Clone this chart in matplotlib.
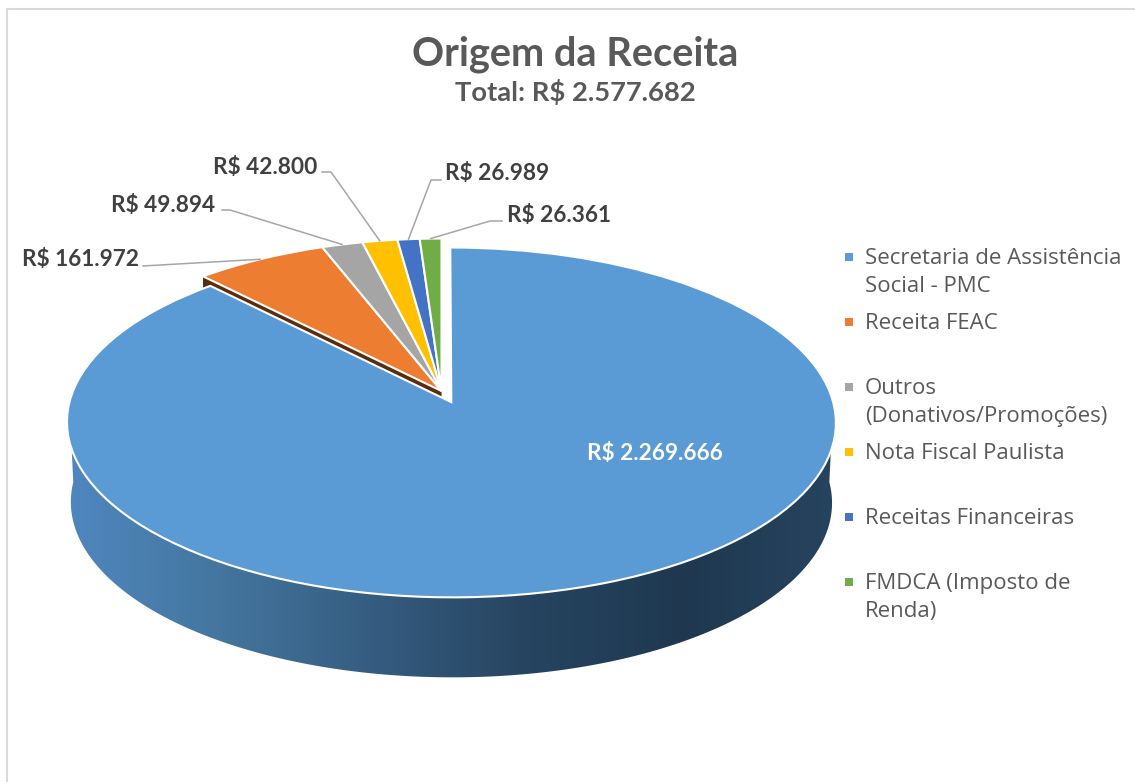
import numpy as np
import matplotlib
matplotlib.use("Agg")
import matplotlib.pyplot as plt
import matplotlib.transforms as mtransforms
from matplotlib.colors import LinearSegmentedColormap
from matplotlib.patches import Polygon

categorias = ["Secretaria de Assistência\nSocial - PMC", "Receita FEAC",
              "Outros\n(Donativos/Promoções)", "Nota Fiscal Paulista",
              "Receitas Financeiras", "FMDCA (Imposto de\nRenda)"]
valores = [2269666, 161972, 49894, 42800, 26989, 26361]
rotulos = ["R$ 2.269.666", "R$ 161.972", "R$ 49.894", "R$ 42.800", "R$ 26.989", "R$ 26.361"]
cores = ["#5B9BD5", "#ED7D31", "#A5A5A5", "#FFC000", "#4472C4", "#70AD47"]

titulo = "Origem da Receita"
subtitulo = "Total: R$ 2.577.682"

TXT = "#595959"
FONTE = "Lato"

# centro da pizza e perspectiva, em pixels
cx, cy = 441.5, 391
rx, ry = 379, 170
k = 0.115
prof = 80
separa = 0.07


def projeta(x, y):
    w = 1 + k * np.asarray(y)
    return cx + rx * np.asarray(x) / w, cy - ry * np.asarray(y) / w


class Perspectiva(mtransforms.Transform):
    input_dims = 2
    output_dims = 2

    def transform_non_affine(self, values):
        px, py = projeta(values[:, 0], values[:, 1])
        return np.column_stack([px, py])


fig = plt.figure(figsize=(11.35, 7.82), dpi=100)
ax = fig.add_axes([0, 0, 1, 1])

wedges, _ = ax.pie(valores, colors=cores, startangle=90, counterclock=False,
                   explode=[separa, 0, 0, 0, 0, 0],
                   wedgeprops=dict(edgecolor="white", linewidth=1.5))
for w in wedges:
    w.set_transform(Perspectiva() + ax.transData)
    w.set_zorder(3)

fracao = np.cumsum(valores) / np.sum(valores)
fim = fracao * 2 * np.pi
ini = np.concatenate([[0], fim[:-1]])
meio = (ini + fim) / 2

# parede lateral (só a frente da fatia azul)
ox = separa * np.sin(meio[0])
oy = separa * np.cos(meio[0])
t = np.linspace(np.pi / 2, 3 * np.pi / 2, 200)
tx, ty = projeta(ox + np.sin(t), oy + np.cos(t))
bx = (tx - tx.mean()) * 0.99 + tx.mean()
by = ty + prof
parede = Polygon(np.column_stack([np.r_[tx, bx[::-1]], np.r_[ty, by[::-1]]]),
                 closed=True, facecolor="none", edgecolor="none",
                 transform=ax.transData)
ax.add_patch(parede)
degrade = LinearSegmentedColormap.from_list(
    "parede", ["#4F87C0", "#44769F", "#355C80", "#264460", "#1F3850", "#27445F"])
img = ax.imshow(np.linspace(0, 1, 256).reshape(1, -1), cmap=degrade, aspect="auto",
                extent=[tx.min() - 5, tx.max() + 5, by.max() + 5, ty.min() - 5], zorder=1)
img.set_clip_path(parede)

# lado cortado da fatia laranja
ex, ey = projeta(np.sin(fim[0]), np.cos(fim[0]))
ex0, ey0 = projeta(0, 0)
ax.add_patch(Polygon([(ex0, ey0), (ex, ey), (ex, ey + prof), (ex0, ey0 + prof)],
                     closed=True, facecolor="#5A2D0E", edgecolor="none", zorder=2))

# rótulos e linhas de chamada
pos_rotulos = [(655, 454), (22, 260), (111, 205), (213, 167), (445, 174), (507, 216)]
cotovelos = [None, (143, 266), (230, 210), (331, 172), (431, 180), (490, 221)]
inicio_linha = [None, None, (222, 210), (322, 172), (441, 180), (502, 221)]

ax.text(pos_rotulos[0][0], pos_rotulos[0][1], rotulos[0], color="white", fontsize=16.3,
        fontweight="bold", family=FONTE, ha="center", va="center", zorder=5)
for i in range(1, 6):
    mx, my = projeta(np.sin(meio[i]), np.cos(meio[i]))
    xs = [cotovelos[i][0], float(mx)]
    ys = [cotovelos[i][1], float(my)]
    if inicio_linha[i] is not None:
        xs.insert(0, inicio_linha[i][0])
        ys.insert(0, inicio_linha[i][1])
    ax.plot(xs, ys, color="#A6A6A6", lw=1.1, zorder=4)
    ax.text(pos_rotulos[i][0], pos_rotulos[i][1], rotulos[i], color="#404040", fontsize=16.3,
            fontweight="bold", family=FONTE, ha="left", va="center", zorder=5)

# legenda
leg_y = 257 + 65 * np.arange(len(categorias))
ax.scatter(np.full(len(categorias), 849), leg_y, marker="s", s=32, c=cores, zorder=5, linewidths=0)
for nome, y in zip(categorias, leg_y):
    ax.text(865, y - 9, nome, color=TXT, fontsize=16, family="Open Sans", ha="left", va="top",
            linespacing=1.45)

# títulos
ax.text(575.5, 54, titulo, color="#595959", fontsize=28.6, fontweight="bold", family=FONTE,
        ha="center", va="center")
ax.text(575.5, 92, subtitulo, color="#595959", fontsize=19.7, fontweight="bold", family=FONTE,
        ha="center", va="center")

# moldura
ax.plot([7, 7], [782, 9], color="#D9D9D9", lw=1.5, zorder=6)
ax.plot([7, 1135], [9, 9], color="#D9D9D9", lw=1.5, zorder=6)

ax.set_aspect("auto")
ax.set_xlim(0, 1135)
ax.set_ylim(782, 0)
ax.axis("off")

fig.savefig("out.png", dpi=100)
